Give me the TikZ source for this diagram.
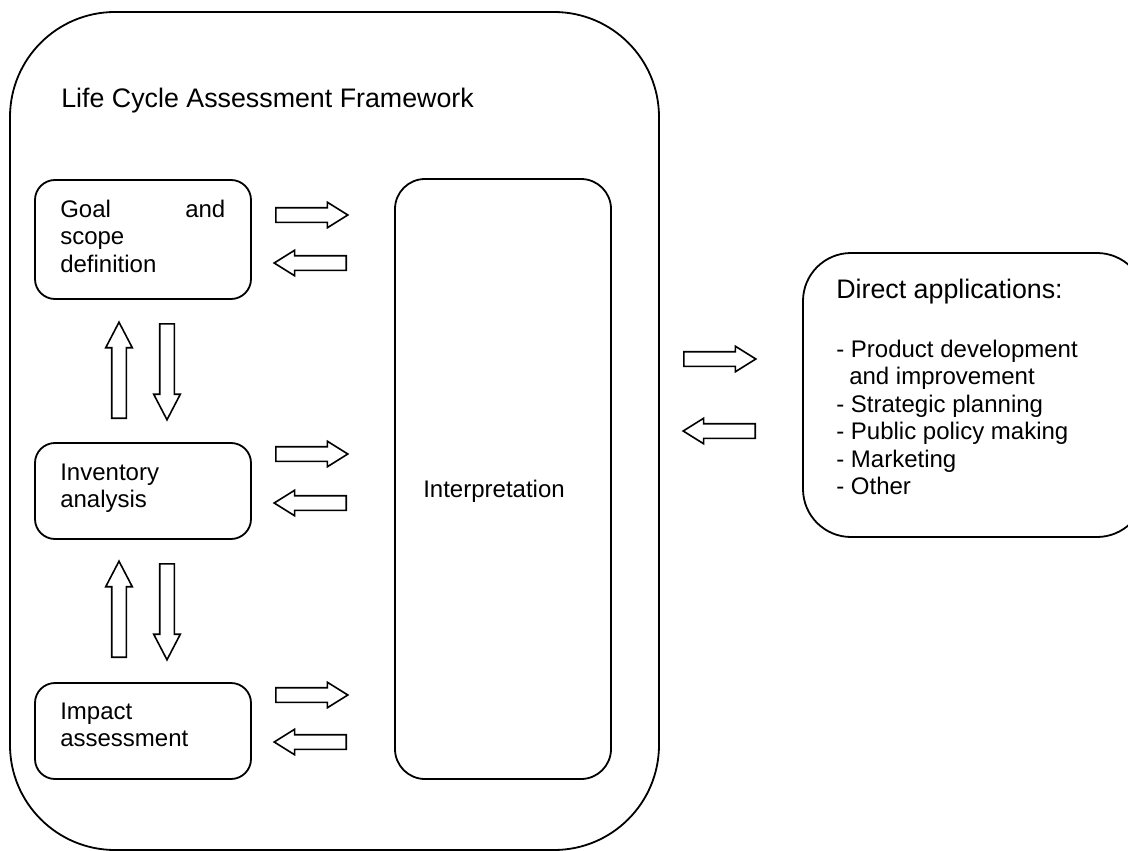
\documentclass[tikz,border=0pt]{standalone}
\usepackage{fontspec}
\setmainfont{Liberation Sans}
\usetikzlibrary{shapes.arrows}
\begin{document}
\begin{tikzpicture}[x=1pt,y=-1pt,
  frame/.style={draw, line width=1.8pt, inner sep=0pt, rounded corners=#1},
  body/.style={font=\fontsize{24}{27.5}\selectfont, inner sep=0pt, anchor=base west, align=left},
  heading/.style={font=\fontsize{26.8}{30}\selectfont, inner sep=0pt, anchor=base west},
  fat/.style={single arrow, draw, line width=1.6pt, inner sep=6.5pt, anchor=tail},
  hfat/.style={fat, minimum height=72pt, single arrow head extend=5.5pt, single arrow tip angle=64, shape border rotate=#1},
  vfat/.style={fat, minimum height=96pt, single arrow head extend=6pt, single arrow tip angle=55, shape border rotate=#1}
]
\useasboundingbox (0,0) rectangle (1128,851);
\clip (0,0) rectangle (1128,851);
\fill[white] (0,0) rectangle (1128,851);

% outer framework
\node[frame=105pt, minimum width=649pt, minimum height=838pt] (lca) at (334.5,431) {};
\node[heading] (lcatitle) at ([xshift=52pt,yshift=-96pt]lca.north west) {Life Cycle Assessment Framework};

% phase boxes
\node[frame=20pt, minimum width=216pt, minimum height=119pt] (goal) at (143,239.5) {};
\node[frame=20pt, minimum width=216pt, minimum height=96pt] (inv) at (143,491) {};
\node[frame=20pt, minimum width=216pt, minimum height=96pt] (imp) at (143,731) {};
\node[frame=30pt, minimum width=216pt, minimum height=600pt] (interp) at (503,479) {};

% the base anchor of a multi-line text sits on its last line
\node[body] (goaltxt) at ([xshift=26pt,yshift=-93pt]goal.north west)
  {\makebox[165pt][l]{Goal\hfill and}\\scope\\definition};
\node[body] (invtxt) at ([xshift=26pt,yshift=-65.5pt]inv.north west) {Inventory\\analysis};
\node[body] (imptxt) at ([xshift=26pt,yshift=-64.5pt]imp.north west) {Impact\\assessment};
\node[body] (interptxt) at ([xshift=29pt,yshift=-319pt]interp.north west) {Interpretation};

% applications box
\node[frame=48pt, minimum width=342pt, minimum height=284pt] (apps) at (974,395) {};
\node[heading] (appstitle) at ([xshift=34pt,yshift=-46pt]apps.north west) {Direct applications:};
\node[body] (appslist) at ([xshift=34pt,yshift=-242.5pt]apps.north west)
  {- Product development\\\hspace*{13pt}and improvement\\- Strategic planning\\- Public policy making\\- Marketing\\- Other};

% arrows between phases and interpretation
\node[hfat=0]   (g2i) at (275,215) {};
\node[hfat=180] (i2g) at (347,263) {};
\node[hfat=0]   (n2i) at (275,454) {};
\node[hfat=180] (i2n) at (347,503) {};
\node[hfat=0]   (m2i) at (275,695) {};
\node[hfat=180] (i2m) at (347,742) {};

% arrows between successive phases
\node[vfat=90]  (n2g) at (119,419) {};
\node[vfat=270] (g2n) at (167,323) {};
\node[vfat=90]  (m2n) at (119,658) {};
\node[vfat=270] (n2m) at (167,563) {};

% arrows between framework and applications
\node[hfat=0]   (l2a) at (683,359) {};
\node[hfat=180] (a2l) at (756,431) {};
\end{tikzpicture}
\end{document}
